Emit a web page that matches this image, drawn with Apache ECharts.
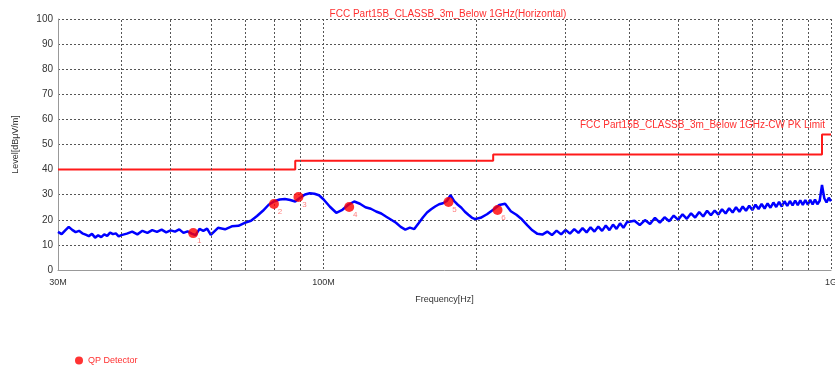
<!DOCTYPE html>
<html>
<head>
<meta charset="utf-8">
<script src="https://cdn.jsdelivr.net/npm/echarts@6/dist/echarts.min.js"></script>
<style>
  html, body { margin: 0; padding: 0; background: #fff; }
  #main { width: 835px; height: 370px; }
</style>
</head>
<body>
<div id="main"></div>
<script>
const freqMHz = [
  30, 30.5, 31, 31.5, 32, 32.5, 33, 33.5, 34, 34.5, 35, 35.5, 36, 36.5, 37, 37.5, 38, 38.5, 39, 39.5, 40,
  41, 42, 43, 44, 45, 46, 47, 48, 49, 50, 51, 52, 53, 54, 55, 56, 57, 58, 59, 60,
  62, 64, 66, 68, 70, 72, 74, 76, 78, 80, 82, 84, 86, 88, 90, 92, 94, 96, 98, 100,
  103, 106, 109, 112, 115, 118, 121, 124, 127, 130, 133, 136, 139, 142, 145, 148, 151,
  154, 157, 160, 163, 166, 169, 172, 175, 178, 181, 184, 187, 190, 193, 196, 199,
  204, 210, 216, 222, 228, 234, 240, 246, 252, 258, 264, 270, 276, 282, 288, 294, 300,
  306, 312, 318, 324, 330, 336, 342, 348, 354, 360, 366, 372, 378, 384, 390, 396,
  410, 420, 430, 440, 450, 460, 470, 480, 490, 500, 510, 520, 530, 540, 550, 560, 570, 580, 590, 600,
  610, 620, 630, 640, 650, 660, 670, 680, 690, 700, 710, 720, 730, 740, 750, 760, 770, 780, 790, 800,
  810, 820, 830, 840, 850, 860, 870, 880, 890, 900, 910, 920, 930, 940, 950, 960, 970, 980, 990, 1000
];
const levelDb = [
  15.2, 14.3, 15.8, 17.2, 16.0, 15.1, 15.6, 14.6, 14.1, 13.5, 14.4, 12.9, 13.8, 13.1, 14.2, 13.6, 14.9, 14.3, 14.6, 13.4, 13.9,
  14.5, 15.3, 14.2, 15.6, 14.8, 15.9, 15.2, 16.1, 15.0, 15.8, 15.3, 16.2, 14.8, 15.4, 14.5, 13.9, 16.4, 15.6, 16.5, 14.0,
  16.8, 16.2, 17.4, 17.6, 18.8, 19.6, 21.5, 23.6, 26.0, 27.4, 28.1, 28.3, 27.9, 27.3, 28.8, 30.1, 30.6, 30.4, 29.8, 28.2,
  25.2, 22.8, 24.0, 26.0, 27.3, 26.4, 25.0, 24.4, 23.3, 22.5, 21.2, 20.0, 18.8, 17.2, 16.1, 16.9, 16.3,
  18.6, 20.9, 22.9, 24.2, 25.3, 26.2, 26.6, 27.5, 29.8, 27.4, 26.0, 24.8, 23.2, 22.0, 20.9, 20.3,
  20.8, 22.2, 24.0, 25.9, 26.4, 23.4, 22.0, 20.2, 17.9, 15.8, 14.4, 14.1, 15.3, 13.9, 15.7, 14.2, 16.0,
  14.5, 16.3, 14.8, 16.7, 15.0, 17.0, 15.3, 17.3, 15.6, 17.7, 15.9, 18.1, 16.4, 18.6, 16.8, 19.0,
  19.6, 17.9, 19.9, 18.3, 20.8, 18.9, 21.0, 19.4, 21.7, 20.0, 22.2, 20.4, 22.6, 20.9, 23.1, 21.3, 23.6, 21.8, 23.7, 22.1,
  24.2, 22.5, 24.6, 22.9, 25.0, 23.2, 25.3, 23.6, 25.6, 23.9, 26.0, 24.3, 26.3, 24.5, 26.5, 24.8, 26.9, 25.1, 27.1, 25.3,
  27.4, 25.5, 27.5, 25.7, 27.7, 25.8, 27.8, 25.9, 27.9, 26.0, 28.0, 26.1, 28.1, 26.2, 27.6, 33.9, 28.6, 26.9, 28.8, 27.4
];

// QP detector readings
const markerFreq = [55.4, 79.9, 89.3, 112.4, 176.4, 220.3];
const markerLevel = [14.7, 26.3, 29.1, 25.1, 27.1, 23.9];
const markerName = ['1', '2', '3', '4', '5', '6'];

// FCC Part 15B class B 3m limit
const limitFreq = [30, 88, 88, 216, 216, 960, 960, 1000];
const limitLevel = [40, 40, 43.5, 43.5, 46, 46, 54, 54];

// minor log grid lines
const minorGridMHz = [40, 50, 60, 70, 80, 90, 200, 300, 400, 500, 600, 700, 800, 900];

const traceData = freqMHz.map((f, i) => [f, levelDb[i]]);
const markerData = markerFreq.map((f, i) => ({ value: [f, markerLevel[i]], name: markerName[i] }));
const limitData = limitFreq.map((f, i) => [f, limitLevel[i]]);

const gridStyle = { color: '#555', width: 1, type: [2, 2] };
const font = 'Liberation Sans, Arial, sans-serif';

const chart = echarts.init(document.getElementById('main'));
chart.setOption({
  animation: false,
  backgroundColor: '#fff',
  textStyle: { fontFamily: font },
  title: [
    {
      text: 'FCC Part15B_CLASSB_3m_Below 1GHz(Horizontal)',
      left: 443, top: 4, textAlign: 'center',
      textStyle: { color: '#ff3030', fontSize: 10, fontWeight: 'normal', fontFamily: font }
    },
    {
      text: 'FCC Part15B_CLASSB_3m_Below 1GHz-CW PK Limit',
      right: 5, top: 115,
      textStyle: { color: '#ff3030', fontSize: 10, fontWeight: 'normal', fontFamily: font }
    }
  ],
  legend: {
    data: ['QP Detector'],
    left: 70, top: 351,
    icon: 'circle', itemWidth: 8, itemHeight: 8, itemGap: 6,
    textStyle: { color: '#ff3030', fontSize: 9, fontFamily: font }
  },
  grid: { left: 58, right: 4, top: 19, bottom: 100, containLabel: false, outerBoundsMode: 'none' },
  xAxis: {
    type: 'log', logBase: 10, min: 30, max: 1000,
    name: 'Frequency[Hz]', nameLocation: 'middle', nameGap: 25,
    nameTextStyle: { color: '#333', fontSize: 9 },
    axisLine: { show: true, lineStyle: { color: '#999' } },
    axisTick: { show: false },
    axisLabel: {
      color: '#333', fontSize: 9, margin: 8, showMinLabel: true, showMaxLabel: true,
      formatter: v => (v >= 1000 ? '1G' : Math.round(v) + 'M')
    },
    splitLine: { show: true, lineStyle: gridStyle }
  },
  yAxis: {
    type: 'value', min: 0, max: 100, interval: 10,
    name: 'Level[dBμV/m]', nameLocation: 'middle', nameGap: 38,
    nameTextStyle: { color: '#333', fontSize: 9 },
    axisLine: { show: true, lineStyle: { color: '#999' } },
    axisTick: { show: false },
    axisLabel: { color: '#333', fontSize: 10, margin: 5 },
    splitLine: { show: true, lineStyle: gridStyle }
  },
  series: [
    {
      name: 'grid', type: 'line', data: [], silent: true,
      markLine: {
        silent: true, symbol: 'none', label: { show: false },
        lineStyle: gridStyle, animation: false,
        data: minorGridMHz.map(v => ({ xAxis: v }))
      }
    },
    {
      name: 'limit', type: 'line', data: limitData, symbol: 'none',
      lineStyle: { color: '#ff1a1a', width: 2 }, z: 3
    },
    {
      name: 'trace', type: 'line', data: traceData, symbol: 'none',
      lineStyle: { color: '#0000ff', width: 2.5 }, z: 4
    },
    {
      name: 'QP Detector', type: 'scatter', data: markerData,
      symbol: 'circle', symbolSize: 10, itemStyle: { color: '#ff0000' }, z: 5,
      label: {
        show: true, formatter: '{b}', position: 'inside', offset: [6, 8],
        color: '#ff6060', fontSize: 8
      }
    }
  ]
});
</script>
</body>
</html>
